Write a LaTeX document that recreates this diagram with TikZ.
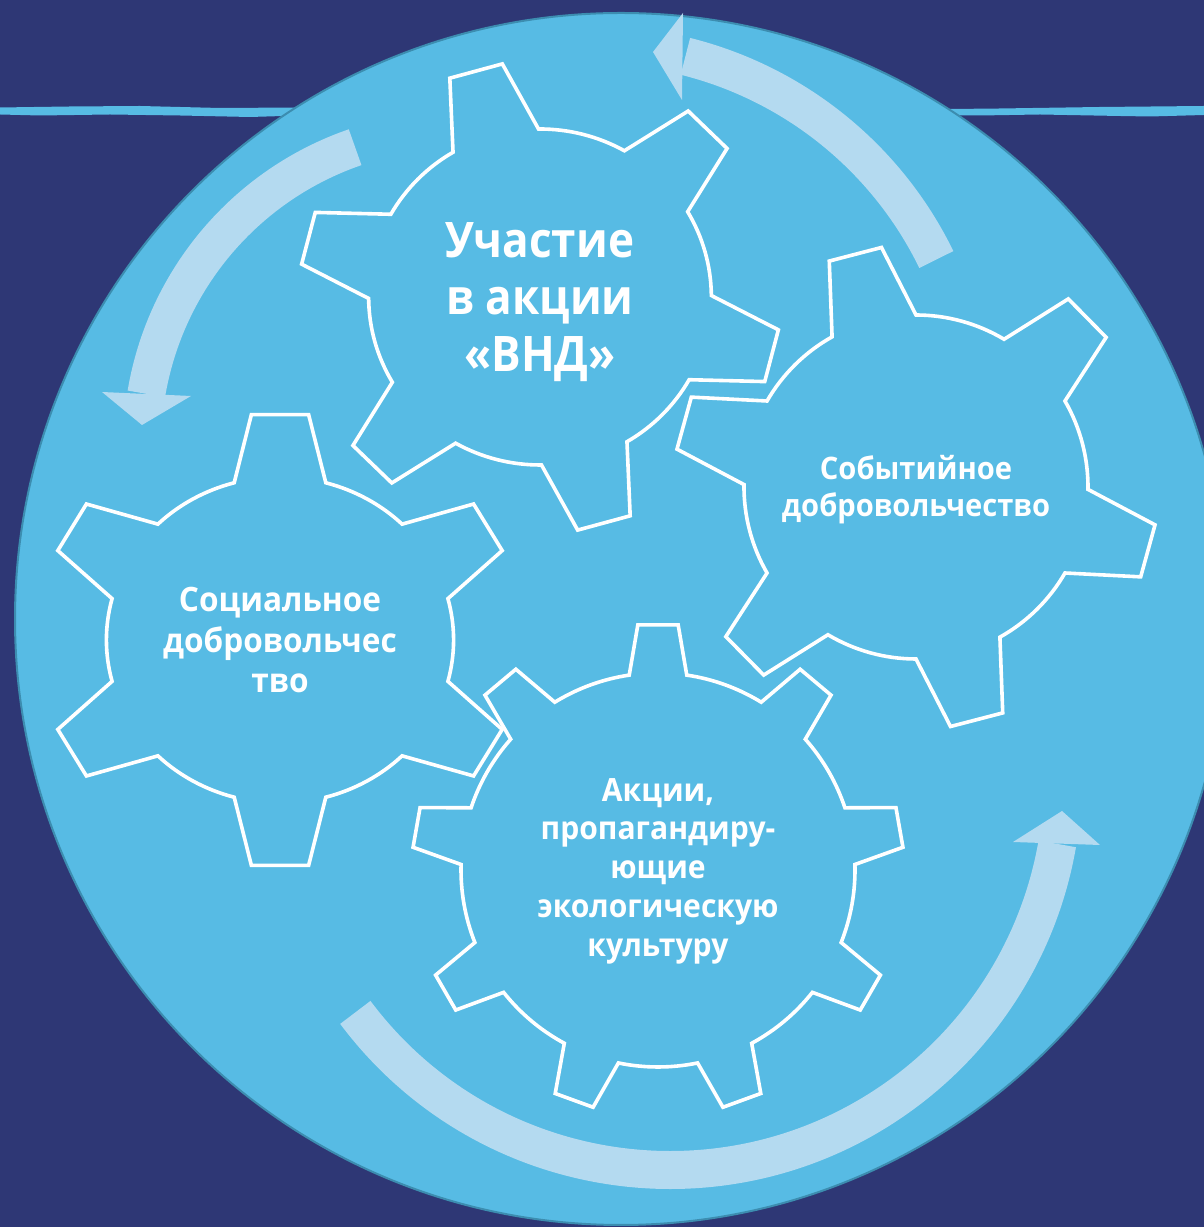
\documentclass[tikz,border=0pt]{standalone}
\usepackage{fontspec}
\setmainfont{Open Sans}
\newfontfamily\gearsans[FakeStretch=0.94]{Open Sans}
\newfontfamily\vndsans[FakeStretch=0.90]{Open Sans}
\usepackage{tikz}
\definecolor{navy}{HTML}{2E3775}
\definecolor{discblue}{HTML}{57BBE4}
\definecolor{discrim}{HTML}{3C8DB0}
\definecolor{pale}{HTML}{B4DAF0}

% gear outline: centre, teeth, phase, root r, tip r, half base, half tip, xscale
\newcommand{\drawgear}[8]{%
	\begin{scope}[shift={(#1)}, xscale=#8]
		\pgfmathsetmacro{\gpitch}{360/#2}
		\draw[gearline] ({#3-#6}:#4)
			\foreach \k in {1,...,#2} {
				-- ({#3+(\k-1)*\gpitch-#7}:#5) -- ({#3+(\k-1)*\gpitch+#7}:#5)
				-- ({#3+(\k-1)*\gpitch+#6}:#4)
				arc[start angle={#3+(\k-1)*\gpitch+#6}, end angle={#3+\k*\gpitch-#6}, radius=#4]
			} -- cycle;
	\end{scope}}

\begin{document}
\begin{tikzpicture}[x=0.5pt, y=0.5pt,
	gearline/.style={draw=white, line width=1.8pt, line join=miter},
	band/.style={draw=pale, line width=19pt},
	gearlabel/.style={text=white, align=center, inner sep=0pt}]
	\useasboundingbox (0,0) rectangle (1204,1227);
	\fill[navy] (0,0) rectangle (1204,1227);
	\clip (0,0) rectangle (1204,1227);

	% brush stroke behind the disc
	\fill[discblue] (0,1119.5) -- (70,1120.5) -- (140,1121) -- (220,1119) -- (300,1119.5)
		-- (900,1117.5) -- (1000,1118.5) -- (1100,1120) -- (1204,1121)
		-- (1204,1112) -- (1150,1110.5) -- (1120,1111) -- (1040,1112.5) -- (980,1111.5) -- (900,1111.5)
		-- (300,1111.5) -- (250,1110) -- (180,1111.5) -- (110,1112.5) -- (40,1111.5) -- (0,1112.5) -- cycle;

	% disc
	\coordinate (disc) at (621,608);
	\fill[discblue, draw=discrim, line width=1pt] (disc) circle[radius=606];

	% arrows round the gears
	\coordinate (arrNE) at (593,800);
	\coordinate (arrNW) at (458,781);
	\coordinate (arrS) at (670,450);
	\draw[band] (arrNE) ++(26:382) arc[start angle=26, end angle=76, radius=382];
	\fill[pale] (653,1175) -- (683,1214) -- (682,1127) -- cycle;
	\draw[band] (arrNW) ++(109:316) arc[start angle=109, end angle=170.5, radius=316];
	\fill[pale] (102,835) -- (191,831) -- (142,802) -- cycle;
	\draw[band] (arrS) ++(216.8:393) arc[start angle=216.8, end angle=350.2, radius=393];
	\fill[pale] (1013,385) -- (1100,382) -- (1062,416) -- cycle;

	% gears
	\coordinate (vnd) at (540,930);
	\coordinate (social) at (280,587);
	\coordinate (event) at (916,740);
	\coordinate (eco) at (658,357);
	\drawgear{vnd}{6}{105.5}{168}{236}{15}{6.5}{1.02}
	\drawgear{social}{6}{90}{163}{227}{15.3}{6.8}{1.065}
	\drawgear{event}{6}{104.6}{172}{242}{14.6}{6.4}{1}
	\drawgear{eco}{9}{90}{197}{246}{8.4}{4.7}{1}

	\node[gearlabel, font=\vndsans\bfseries\fontsize{24.5}{28.5}\selectfont] (vndtext) at (540,924.5) {Участие\\в акции\\«ВНД»};
	\node[gearlabel, font=\gearsans\bfseries\fontsize{16.8}{20.25}\selectfont] (socialtext) at (280,586.5) {Социальное\\добровольчес\\тво};
	\node[gearlabel, font=\gearsans\bfseries\fontsize{15.5}{18.5}\selectfont] (eventtext) at (916,737) {Событийное\\добровольчество};
	\node[gearlabel, font=\gearsans\bfseries\fontsize{16}{19.4}\selectfont] (ecotext) at (658,356) {Акции,\\пропагандиру-\\ющие\\экологическую\\культуру};
\end{tikzpicture}
\end{document}
